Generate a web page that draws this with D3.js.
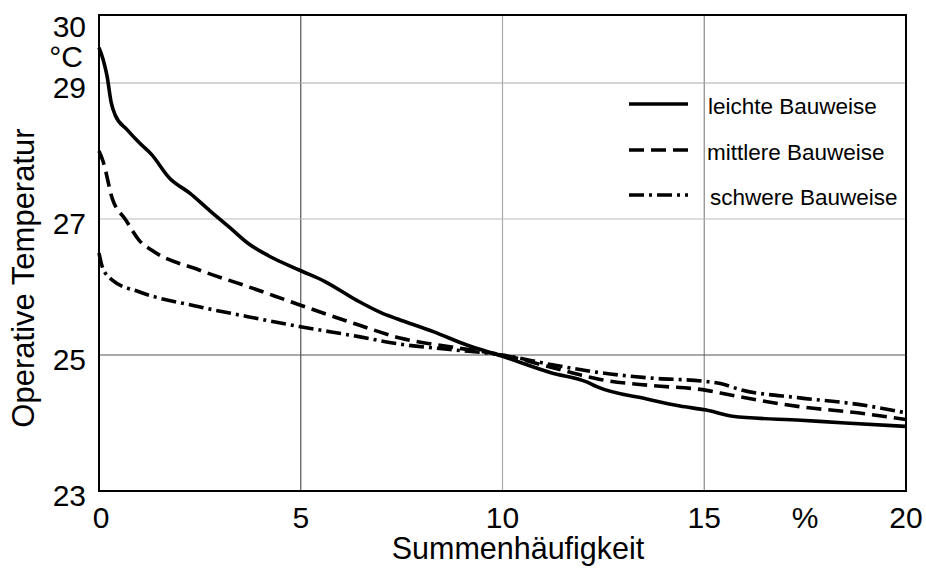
<!DOCTYPE html>
<html>
<head>
<meta charset="utf-8">
<script src="https://cdn.jsdelivr.net/npm/d3@7"></script>
<style>
  body { margin: 0; background: #fff; }
  text { font-family: "Liberation Sans", Arial, sans-serif; fill: #000; }
</style>
</head>
<body>
<div id="chart"></div>
<script>
const xTicks = [0, 5, 10, 15, 20];
const yTicks = [23, 25, 27, 29, 30];
const xGrid = [5, 10, 15];
const yGrid = [25, 27, 29];

const leicht = [
  [0, 29.52], [0.1, 29.35], [0.2, 29.1], [0.3, 28.72], [0.4, 28.53], [0.7, 28.31],
  [1.0, 28.12], [1.3, 27.95], [1.75, 27.6], [2.25, 27.38], [2.75, 27.12], [3.25, 26.87],
  [3.7, 26.64], [4.2, 26.46], [4.96, 26.25], [5.6, 26.08], [6.4, 25.8], [7.0, 25.62],
  [7.4, 25.53], [8.3, 25.34], [9.1, 25.15], [10.0, 24.98], [11.2, 24.74], [12.1, 24.6],
  [12.35, 24.53], [13.6, 24.35], [14.4, 24.25], [15.05, 24.19], [15.7, 24.1], [17.4, 24.04],
  [18.5, 24.0], [20, 23.95]
];
const mittel = [
  [0, 28.0], [0.1, 27.85], [0.33, 27.3], [0.66, 26.99], [0.99, 26.69], [1.31, 26.54],
  [2.48, 26.25], [3.72, 26.0], [4.96, 25.74], [6.44, 25.44], [7.46, 25.25], [8.7, 25.12],
  [10, 25.0], [11.2, 24.82], [12.42, 24.64], [13.7, 24.55], [15.06, 24.48], [15.4, 24.44],
  [17.37, 24.24], [18.8, 24.15], [20, 24.05]
];
const schwer = [
  [0, 26.5], [0.08, 26.3], [0.33, 26.1], [0.99, 25.93], [2.48, 25.71], [3.72, 25.56],
  [4.96, 25.42], [6.44, 25.27], [7.46, 25.16], [8.7, 25.08], [10, 25.0], [11.2, 24.86],
  [12.42, 24.74], [13.7, 24.66], [15.06, 24.61], [15.4, 24.58], [15.9, 24.49], [17.37, 24.37],
  [18.86, 24.27], [20, 24.15]
];
const seriesNames = ["leichte Bauweise", "mittlere Bauweise", "schwere Bauweise"];

const width = 926;
const height = 573;
const margin = { top: 15, right: 20, bottom: 82, left: 99 };

const dashes = [null, "15,7", "15,5,3,5"];
const gridColors = { x: { 5: "#555", 10: "#aaa", 15: "#888" }, y: { 25: "#555", 27: "#bbb", 29: "#aaa" } };

const x = d3.scaleLinear().domain([0, 20]).range([margin.left, width - margin.right]);
const y = d3.scaleLinear().domain([23, 30]).range([height - margin.bottom, margin.top]);

const svg = d3.select("#chart").append("svg")
  .attr("width", width)
  .attr("height", height);

// grid
svg.selectAll(".xgrid").data(xGrid).enter().append("line")
  .attr("x1", (d) => x(d)).attr("x2", (d) => x(d))
  .attr("y1", y(23)).attr("y2", y(30))
  .attr("stroke", (d) => gridColors.x[d]).attr("stroke-width", 1.2);

svg.selectAll(".ygrid").data(yGrid).enter().append("line")
  .attr("x1", x(0)).attr("x2", x(20))
  .attr("y1", (d) => y(d)).attr("y2", (d) => y(d))
  .attr("stroke", (d) => gridColors.y[d]).attr("stroke-width", 1.2);

// series
const line = d3.line()
  .x((d) => x(d[0]))
  .y((d) => y(d[1]))
  .curve(d3.curveMonotoneX);

[leicht, mittel, schwer].forEach((data, i) => {
  svg.append("path")
    .attr("d", line(data))
    .attr("fill", "none")
    .attr("stroke", "#000")
    .attr("stroke-width", 3.6)
    .attr("stroke-dasharray", dashes[i]);
});

// frame
svg.append("rect")
  .attr("x", x(0)).attr("y", y(30))
  .attr("width", x(20) - x(0)).attr("height", y(23) - y(30))
  .attr("fill", "none").attr("stroke", "#000").attr("stroke-width", 2);

// y tick labels
svg.selectAll(".ylab").data(yTicks).enter().append("text")
  .attr("x", 86)
  .attr("y", (d) => d === 30 ? y(d) + 22 : y(d) + 15)
  .attr("text-anchor", "end")
  .attr("font-size", 30)
  .text((d) => d);

svg.append("text")
  .attr("x", 83).attr("y", 67)
  .attr("text-anchor", "end")
  .attr("font-size", 30)
  .text("°C");

// x tick labels
svg.selectAll(".xlab").data(xTicks).enter().append("text")
  .attr("x", (d) => x(d) + (d === 0 ? 2 : 0))
  .attr("y", 528)
  .attr("text-anchor", "middle")
  .attr("font-size", 30)
  .text((d) => d);

svg.append("text")
  .attr("x", x(17.5)).attr("y", 528)
  .attr("text-anchor", "middle")
  .attr("font-size", 30)
  .text("%");

// axis titles
svg.append("text")
  .attr("x", 518).attr("y", 559)
  .attr("text-anchor", "middle")
  .attr("font-size", 30.5)
  .text("Summenhäufigkeit");

svg.append("text")
  .attr("transform", `translate(34,278) rotate(-90)`)
  .attr("text-anchor", "middle")
  .attr("font-size", 31)
  .text("Operative Temperatur");

// legend
const legendY = [104, 150, 195];
const legendTextX = [708, 707, 710];
seriesNames.forEach((name, i) => {
  svg.append("line")
    .attr("x1", 629).attr("x2", 688)
    .attr("y1", legendY[i]).attr("y2", legendY[i])
    .attr("stroke", "#000")
    .attr("stroke-width", 3.6)
    .attr("stroke-dasharray", dashes[i]);
  svg.append("text")
    .attr("x", legendTextX[i])
    .attr("y", legendY[i] + 10)
    .attr("font-size", 22.5)
    .text(name);
});
</script>
</body>
</html>
